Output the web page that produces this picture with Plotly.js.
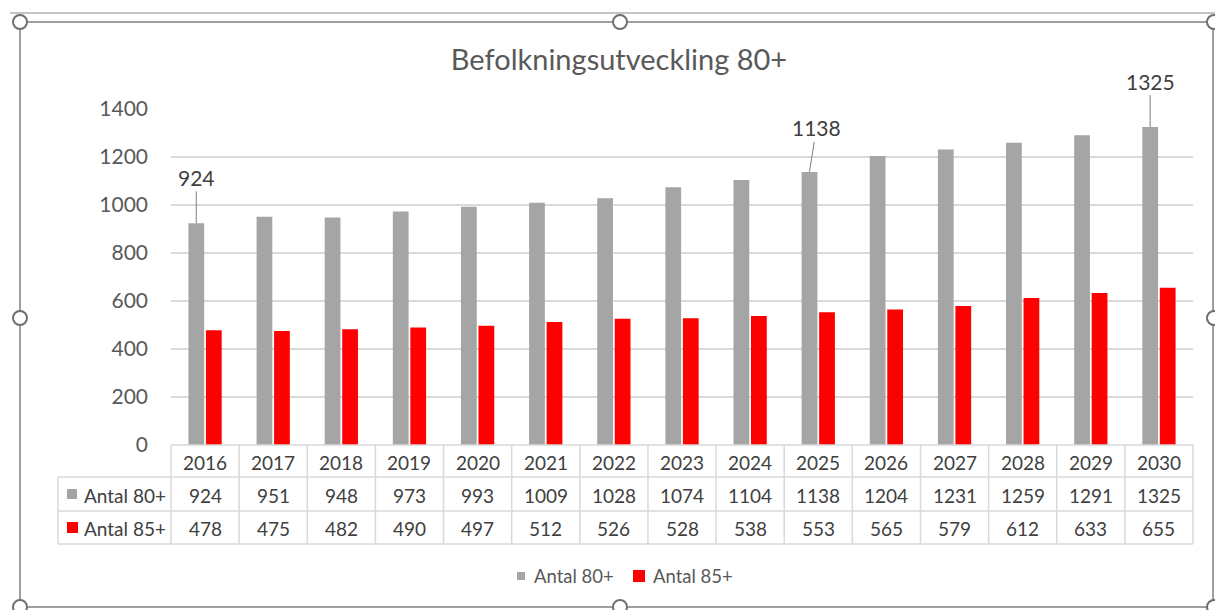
<!DOCTYPE html>
<html>
<head>
<meta charset="utf-8">
<script src="https://cdn.plot.ly/plotly-3.0.1.min.js"></script>
<style>
html,body{margin:0;padding:0;background:#fff;}
#chart{width:1215px;height:610px;}
</style>
</head>
<body>
<div id="chart"></div>
<script>
// ---- data ----
var years = ['2016','2017','2018','2019','2020','2021','2022','2023','2024','2025','2026','2027','2028','2029','2030'];
var antal80 = [924, 951, 948, 973, 993, 1009, 1028, 1074, 1104, 1138, 1204, 1231, 1259, 1291, 1325];
var antal85 = [478, 475, 482, 490, 497, 512, 526, 528, 538, 553, 565, 579, 612, 633, 655];
var seriesNames = ['Antal 80+', 'Antal 85+'];
var labelIdx = [0, 9, 14];          // bars with a callout label
var labelOffsets = [[0,-46],[7,-44],[0,-46]];

// ---- geometry (pixels) ----
var W = 1215, H = 610;
var L = 171, R = 1193, T = 109, B = 445;
function px2x(p){ return (p - L) / (R - L); }
function px2y(p){ return (B - p) / (B - T); }

var FONT = 'Lato, "Open Sans", sans-serif';
var gray = '#a5a5a5', red = '#ff0000';
var txt = '#404040', axTxt = '#595959', tblLine = '#d9d9d9', frame = '#7f7f7f';

var traces = [
  {type:'bar', name:seriesNames[0], x:years, y:antal80, marker:{color:gray}, hoverinfo:'x+y'},
  {type:'bar', name:seriesNames[1], x:years, y:antal85, marker:{color:red}, hoverinfo:'x+y'}
];

var shapes = [];
var annotations = [];

// data callouts (x given as category index)
labelIdx.forEach(function(i, k){
  annotations.push({
    x: i, y: antal80[i], xref:'x', yref:'y', xshift:-8.8,
    text: String(antal80[i]), showarrow:true, arrowhead:0, arrowwidth:1,
    arrowcolor:'#7f7f7f', ax: labelOffsets[k][0], ay: labelOffsets[k][1],
    standoff:0, startstandoff:0,
    font:{family:FONT, size:21, color:txt}
  });
});

// table geometry
var rowY = [445, 477, 511, 544];
var tblLeft = 58;
var colW = (R - L) / years.length;
shapes.push({type:'line', xref:'paper', yref:'paper', x0:px2x(L), x1:px2x(R), y0:px2y(rowY[0]), y1:px2y(rowY[0]), line:{color:tblLine, width:1.5}});
for (var r = 1; r < rowY.length; r++) {
  shapes.push({type:'line', xref:'paper', yref:'paper', x0:px2x(tblLeft), x1:px2x(R), y0:px2y(rowY[r]), y1:px2y(rowY[r]), line:{color:tblLine, width:1.5}});
}
for (var c = 0; c <= years.length; c++) {
  var xp = px2x(L + c * colW);
  shapes.push({type:'line', xref:'paper', yref:'paper', x0:xp, x1:xp, y0:px2y(rowY[0]), y1:px2y(rowY[3]), line:{color:tblLine, width:1.5}});
}
shapes.push({type:'line', xref:'paper', yref:'paper', x0:px2x(tblLeft), x1:px2x(tblLeft), y0:px2y(rowY[1]), y1:px2y(rowY[3]), line:{color:tblLine, width:1.5}});

// table text
var rowsData = [years, antal80, antal85];
for (var r2 = 0; r2 < 3; r2++) {
  var cy = (rowY[r2] + rowY[r2+1]) / 2 + 1;
  rowsData[r2].forEach(function(v, i){
    annotations.push({
      xref:'paper', yref:'paper', x:px2x(L + (i + 0.5) * colW), y:px2y(cy),
      xanchor:'center', yanchor:'middle', showarrow:false, text:String(v),
      font:{family:FONT, size:19, color:txt}
    });
  });
}
// row labels with keys
var keyCols = [gray, red];
var keySize = [[67,77,489,499],[67,78,522,533]];
for (var s = 0; s < 2; s++) {
  var cy2 = (rowY[s+1] + rowY[s+2]) / 2 + 1;
  annotations.push({
    xref:'paper', yref:'paper', x:px2x(82), y:px2y(cy2), xanchor:'left', yanchor:'middle',
    showarrow:false, text:seriesNames[s], font:{family:FONT, size:19, color:txt}
  });
  var ks = keySize[s];
  shapes.push({type:'rect', xref:'paper', yref:'paper', x0:px2x(ks[0]), x1:px2x(ks[1]), y0:px2y(ks[3]), y1:px2y(ks[2]), fillcolor:keyCols[s], line:{width:0}});
}

// bottom legend
var legKeys = [[517,525,572,580],[633,645,570,582]];
var legText = [532, 651];
for (var s2 = 0; s2 < 2; s2++) {
  var lk = legKeys[s2];
  shapes.push({type:'rect', xref:'paper', yref:'paper', x0:px2x(lk[0]), x1:px2x(lk[1]), y0:px2y(lk[3]), y1:px2y(lk[2]), fillcolor:keyCols[s2], line:{width:0}});
  annotations.push({
    xref:'paper', yref:'paper', x:px2x(legText[s2]), y:px2y(576), xanchor:'left', yanchor:'middle',
    showarrow:false, text:seriesNames[s2], font:{family:FONT, size:18.5, color:axTxt}
  });
}

// selection frame
var fl = {color:frame, width:1.5};
shapes.push({type:'line', xref:'paper', yref:'paper', x0:px2x(10), x1:px2x(1215), y0:px2y(13), y1:px2y(13), line:{color:'#8c8c8c', width:1.2}});
shapes.push({type:'line', xref:'paper', yref:'paper', x0:px2x(20), x1:px2x(1213), y0:px2y(22), y1:px2y(22), line:fl});
shapes.push({type:'line', xref:'paper', yref:'paper', x0:px2x(20), x1:px2x(20), y0:px2y(22), y1:px2y(607), line:fl});
shapes.push({type:'line', xref:'paper', yref:'paper', x0:px2x(20), x1:px2x(1213), y0:px2y(607), y1:px2y(607), line:fl});
shapes.push({type:'line', xref:'paper', yref:'paper', x0:px2x(1213), x1:px2x(1213), y0:px2y(22), y1:px2y(607), line:fl});
var handles = [[20,22],[620,22],[1214,22],[20,318],[1214,318],[20,607],[620,607],[1214,607]];
handles.forEach(function(h){
  var rr = 7;
  shapes.push({type:'circle', xref:'paper', yref:'paper', x0:px2x(h[0]-rr), x1:px2x(h[0]+rr), y0:px2y(h[1]+rr), y1:px2y(h[1]-rr), fillcolor:'#ffffff', line:{color:'#6f6f6f', width:2}});
});

var layout = {
  width: W, height: H,
  margin: {l:L, r:W-R, t:T, b:H-B, pad:0},
  paper_bgcolor:'#ffffff', plot_bgcolor:'#ffffff',
  title: {text:'Befolkningsutveckling 80+', x:619/W, xanchor:'center', xref:'container',
          y:1-60/H, yanchor:'middle', yref:'container',
          font:{family:FONT, size:29, color:axTxt}},
  barmode:'group', bargap:0.486, bargroupgap:0.1,
  xaxis: {type:'category', range:[-0.5, years.length - 0.5], autorange:false, showticklabels:false,
          showgrid:false, zeroline:false, showline:false, ticks:'', fixedrange:true},
  yaxis: {range:[0,1400], autorange:false, dtick:200, tick0:0, showgrid:true, gridcolor:'#d9d9d9', gridwidth:1.5,
          zeroline:false, showline:false, ticks:'', ticklabelstandoff:22,
          tickfont:{family:FONT, size:21, color:axTxt}, fixedrange:true},
  showlegend:false,
  shapes: shapes,
  annotations: annotations
};

Plotly.newPlot('chart', traces, layout, {displayModeBar:false, staticPlot:true});
</script>
</body>
</html>
